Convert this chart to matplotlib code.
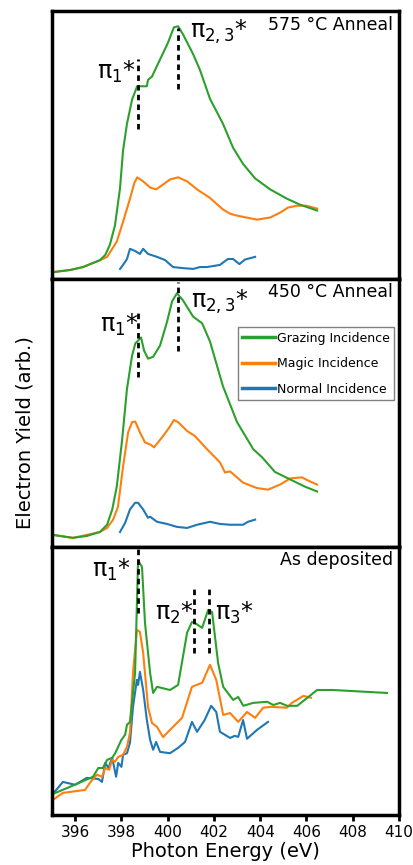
import matplotlib.pyplot as plt

# colours for the three incidence angles
c_graze = '#2ca02c'
c_magic = '#ff7f0e'
c_normal = '#1f77b4'

# ---- 575 C anneal (top panel) ----
e575_graze = [395.04, 395.78, 396.34, 397.07, 397.3, 397.5, 397.72, 397.94, 398.07, 398.24, 398.46, 398.68,
              398.89, 399.1, 399.15, 399.32, 399.67, 400.0, 400.27, 400.45, 400.66, 401.1, 401.4, 401.83,
              402.39, 402.83, 403.26, 403.78, 404.43, 405.16, 405.72, 406.46]
y575_graze = [2.6, 3.4, 4.5, 7.1, 9.0, 12.8, 20.0, 34.0, 48.0, 58.0, 67.0, 72.0,
              72.0, 72.0, 74.4, 75.6, 82.0, 88.0, 94.0, 94.4, 91.4, 84.0, 78.0, 67.3,
              58.0, 49.0, 43.0, 37.6, 33.5, 30.0, 27.8, 25.6]
e575_magic = [395.04, 395.78, 396.34, 397.07, 397.38, 397.8, 398.07, 398.37, 398.55, 398.68, 398.94, 399.24,
              399.5, 399.8, 400.1, 400.45, 400.84, 401.27, 401.83, 402.39, 402.7, 403.0, 403.86, 404.43,
              404.86, 405.2, 405.6, 406.0, 406.46]
y575_magic = [2.6, 3.4, 4.5, 7.0, 8.3, 14.0, 21.4, 30.0, 35.7, 38.0, 36.5, 34.2,
              33.5, 35.3, 37.2, 38.0, 36.5, 33.5, 30.3, 26.0, 24.4, 23.7, 22.2, 23.0,
              24.8, 26.7, 27.4, 27.4, 26.3]
e575_normal = [397.94, 398.07, 398.24, 398.37, 398.59, 398.8, 398.94, 399.15, 399.54, 399.89, 400.23, 400.66,
               401.1, 401.4, 401.7, 402.26, 402.6, 402.83, 403.1, 403.34, 403.78]
y575_normal = [3.8, 5.3, 7.5, 11.3, 10.5, 9.4, 11.3, 9.4, 8.3, 7.1, 4.5, 4.1,
               3.8, 4.5, 4.5, 5.3, 7.5, 7.5, 5.6, 7.3, 8.3]

# ---- 450 C anneal (middle panel) ----
e450_graze = [395.04, 395.9, 396.5, 397.07, 397.38, 397.6, 397.8, 398.03, 398.24, 398.46, 398.6, 398.68,
              398.85, 398.98, 399.15, 399.37, 399.67, 399.97, 400.19, 400.4, 400.66, 401.1, 401.49, 401.83,
              402.39, 403.0, 403.7, 404.08, 404.64, 405.3, 405.94, 406.46]
y450_graze = [4.5, 3.4, 4.1, 5.6, 8.3, 13.9, 22.6, 40.0, 59.0, 71.4, 76.0, 76.7,
              78.2, 73.3, 70.3, 71.0, 75.2, 84.0, 91.7, 94.7, 92.1, 86.0, 83.5, 76.7,
              60.0, 46.6, 36.5, 33.5, 28.0, 25.2, 22.5, 20.7]
e450_magic = [395.04, 395.9, 396.5, 397.07, 397.38, 397.64, 397.85, 398.07, 398.29, 398.46, 398.6, 398.8,
              399.02, 399.24, 399.41, 399.8, 400.1, 400.27, 400.45, 400.84, 401.18, 401.7, 402.26, 402.48,
              402.7, 403.26, 403.86, 404.34, 404.86, 405.3, 405.8, 406.07, 406.46]
y450_magic = [4.5, 3.4, 4.5, 5.6, 7.1, 10.2, 15.0, 30.0, 42.8, 46.6, 46.8, 42.8,
              39.0, 38.3, 37.2, 41.4, 45.0, 47.4, 46.6, 43.3, 41.4, 36.5, 31.6, 27.8,
              28.2, 24.0, 22.0, 21.4, 23.3, 25.6, 26.0, 24.8, 23.3]
e450_normal = [397.94, 398.16, 398.37, 398.59, 398.72, 398.94, 399.15, 399.24, 399.54, 399.97, 400.4, 400.84,
               401.27, 401.83, 402.26, 402.7, 403.26, 403.47, 403.78]
y450_normal = [5.6, 9.0, 14.0, 16.5, 16.5, 14.0, 10.9, 11.3, 9.4, 8.6, 7.5, 7.1,
               8.3, 9.4, 8.6, 8.3, 8.3, 9.4, 10.2]

# ---- as deposited (bottom panel) ----
edep_graze = [395.04, 395.65, 396.77, 397.0, 397.2, 397.38, 397.6, 397.73, 397.86, 398.0, 398.16, 398.24,
              398.37, 398.44, 398.59, 398.72, 398.89, 399.02, 399.24, 399.37, 399.54, 400.1, 400.45, 400.84,
              401.05, 401.18, 401.49, 401.75, 401.92, 402.18, 402.4, 402.83, 403.05, 403.27, 403.7, 404.3,
              404.57, 404.86, 405.16, 405.6, 406.46, 407.15, 409.48]
ydep_graze = [7.8, 10.0, 14.2, 17.5, 17.5, 20.5, 21.3, 23.0, 25.4, 28.0, 29.9, 33.6,
              34.7, 40.3, 53.0, 95.0, 92.5, 71.6, 53.0, 45.5, 47.8, 46.6, 48.5, 68.0,
              72.0, 71.6, 69.8, 76.5, 75.7, 56.7, 47.8, 42.9, 44.0, 40.7, 41.8, 42.2,
              41.0, 41.8, 40.7, 40.7, 46.6, 46.6, 45.5]
edep_magic = [395.04, 395.47, 396.43, 396.64, 396.94, 397.16, 397.3, 397.47, 397.6, 397.72, 397.86, 398.07,
              398.24, 398.37, 398.5, 398.67, 398.8, 398.94, 399.15, 399.32, 399.54, 399.8, 400.1, 400.62,
              401.05, 401.49, 401.83, 402.1, 402.4, 402.7, 403.05, 403.43, 403.78, 404.13, 404.43, 405.16,
              405.37, 405.87, 406.2]
ydep_magic = [5.6, 8.2, 9.3, 12.0, 15.0, 14.2, 17.5, 16.8, 20.5, 19.8, 21.6, 22.4,
              25.4, 30.6, 53.0, 69.0, 68.3, 60.4, 40.3, 34.3, 32.8, 29.0, 31.7, 36.2,
              47.8, 49.3, 56.0, 50.4, 37.3, 38.0, 34.7, 38.4, 36.2, 40.0, 40.3, 40.0,
              41.8, 44.4, 43.7]
edep_normal = [395.04, 395.47, 396.0, 396.5, 397.0, 397.16, 397.3, 397.44, 397.6, 397.77, 397.86, 398.0,
               398.07, 398.24, 398.37, 398.5, 398.67, 398.72, 398.8, 398.94, 399.1, 399.24, 399.37, 399.5,
               399.67, 400.1, 400.45, 400.75, 401.05, 401.27, 401.6, 401.88, 402.1, 402.26, 402.7, 402.9,
               403.05, 403.26, 403.43, 403.86, 404.34]
ydep_normal = [7.8, 12.3, 11.2, 13.8, 13.4, 12.3, 19.4, 17.5, 21.3, 14.2, 19.4, 17.9,
               22.4, 23.0, 26.9, 40.3, 50.4, 48.5, 53.4, 46.6, 35.4, 28.0, 24.3, 27.2,
               23.5, 23.0, 25.0, 27.2, 34.7, 31.0, 35.4, 40.7, 38.4, 31.0, 28.7, 29.5,
               29.1, 35.4, 28.4, 31.7, 34.7]

xticks = [396, 398, 400, 402, 404, 406, 408, 410]

fig, axs = plt.subplots(3, 1, figsize=(4.13, 8.65), dpi=100, sharex=True)
fig.subplots_adjust(left=0.126, right=0.966, top=0.987, bottom=0.058, hspace=0)

panels = [
    (e575_graze, y575_graze, e575_magic, y575_magic, e575_normal, y575_normal, '575 °C Anneal'),
    (e450_graze, y450_graze, e450_magic, y450_magic, e450_normal, y450_normal, '450 °C Anneal'),
    (edep_graze, ydep_graze, edep_magic, ydep_magic, edep_normal, ydep_normal, 'As deposited'),
]

for ax, (eg, yg, em, ym, en, yn, title) in zip(axs, panels):
    ln, = ax.plot(en, yn, color=c_normal, lw=1.5, label='Normal Incidence')
    lm, = ax.plot(em, ym, color=c_magic, lw=1.5, label='Magic Incidence')
    lg, = ax.plot(eg, yg, color=c_graze, lw=1.5, label='Grazing Incidence')
    ax.set_ylim(0, 100)
    ax.set_yticks([])
    for sp in ax.spines.values():
        sp.set_linewidth(2.5)
    ax.text(0.983, 0.95, title, transform=ax.transAxes, ha='right', va='center', fontsize=12.5)

ax1, ax2, ax3 = axs

# peak markers
dash = dict(color='black', ls=(0, (2, 1.5)), lw=2)
lab = dict(va='center', fontsize=17)
ax1.plot([398.72, 398.72], [56, 82], **dash)
ax1.plot([400.45, 400.45], [71, 93.6], **dash)
ax1.text(398.62, 77.5, r'π$_\mathregular{1}$*', ha='right', **lab)
ax1.text(400.95, 92.3, r'π$_\mathregular{2,3}$*', ha='left', **lab)

ax2.plot([398.72, 398.72], [63.5, 89], **dash)
ax2.plot([400.45, 400.45], [73, 99], **dash)
ax2.text(398.75, 83, r'π$_\mathregular{1}$*', ha='right', **lab)
ax2.text(401.0, 91.3, r'π$_\mathregular{2,3}$*', ha='left', **lab)

ax3.plot([398.72, 398.72], [75.4, 100], **dash)
ax3.plot([401.14, 401.14], [60.4, 85.8], **dash)
ax3.plot([401.8, 401.8], [60.4, 85.8], **dash)
ax3.text(398.4, 91.4, r'π$_\mathregular{1}$*', ha='right', **lab)
ax3.text(401.15, 75.4, r'π$_\mathregular{2}$*', ha='right', **lab)
ax3.text(402.05, 75.4, r'π$_\mathregular{3}$*', ha='left', **lab)

leg = ax2.legend(handles=[lg, lm, ln], loc='upper right', bbox_to_anchor=(0.985, 0.82), fontsize=9,
                 handlelength=2.6, labelspacing=1.0, fancybox=False, framealpha=1,
                 edgecolor='gray', borderaxespad=0, handletextpad=0.15, borderpad=0.35)
for h in leg.get_lines():
    h.set_linewidth(2.5)

ax3.set_xlim(395, 410)
ax3.set_xticks(xticks)
ax3.tick_params(axis='x', labelsize=11, width=2, length=4)
ax3.set_xlabel('Photon Energy (eV)', fontsize=14, labelpad=1)
fig.text(0.06, 0.5, 'Electron Yield (arb.)', rotation=90, ha='center', va='center', fontsize=14)

plt.savefig('out.png', dpi=100)
